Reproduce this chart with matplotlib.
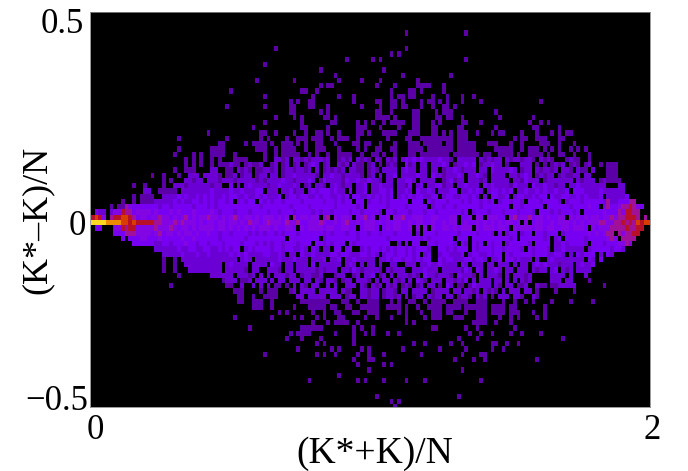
import numpy as np
import matplotlib
matplotlib.use('Agg')
from matplotlib import pyplot as plt
from matplotlib.colors import ListedColormap, BoundaryNorm
from matplotlib.transforms import ScaledTranslation

plt.rcParams['font.family'] = ['Liberation Serif', 'DejaVu Serif']

# histogram levels, one row per bin, '.' is an empty bin
# every block below is 10 bins wide, row 40 is (K*-K)/N = 0
dense_rows = {
    28: ".......... .......... .....1.1.1 ..1.1...11 11....1..2 212.221212 2212..1212 .2121.21.2 12.2323232 2223221.22 222.212122 .21221221. 2121...121 1..1...... ..........",
    29: ".......... .......... .....1.1.1 ..1.111211 2121121212 2122121123 2112122122 2112122121 2122312322 3222322122 3231122322 2122322221 1121212.12 12121.1.11 1.........",
    30: ".......... .......... ..1..111.. ..22..1112 1212112212 2122122123 2212121222 2112121222 2212322322 3222122321 2221222322 2232212222 1221212211 21122...11 1.........",
    31: ".......... ......1..1 ...1..222. 2222121121 1222122122 2122322222 1122322122 2212122222 2322222322 2322122232 1223212222 2122123221 2122212112 22221...11 1.........",
    32: ".......... .........1 .1...22122 .222122212 2222121222 2322122232 2132222132 2322322122 2122332222 2222123122 3222123222 2222213222 2122222221 2122221211 11........",
    33: ".......... .1..1....1 ..22212222 2212222322 2232222122 3222322123 2213232122 3223122322 2322133232 2233122322 3222132322 2213222132 2322122322 32222222.. .22.......",
    34: ".......... ....22..11 111.222222 2232222322 3222332222 3223122323 2333232223 3223222332 3222323322 3232223322 2323222332 3232223223 2322322323 3322223222 222.......",
    35: ".......... .1.1111..2 2223232232 3232232332 2322323222 3323323322 3233223232 3322323232 3323232332 2332233223 3232223332 2332332232 3323223322 3232223322 2223......",
    36: "........1. .1.1111222 2232322332 3232332332 3233232323 3233332333 3323323233 2333233232 3333323333 3233323332 3233232332 3323323333 2333323233 3233333252 233355....",
    37: ".....1.115 4333333323 3233333233 3232333333 3333323333 3332333323 3333323333 3233333332 3333233333 3233233233 3333233333 3333323333 3233333323 3334333353 34556543..",
    38: ".322.24465 5344443433 3434333433 3343233323 3323333233 2333233332 3233233332 3323333233 3233323332 3323333332 3323332333 2333233323 3332323332 3433333433 3546655...",
    39: "6764.56677 6534434454 4343453434 4544343454 3443434443 4344534434 4445343443 4345344334 3445334443 3443334453 3454434443 3445344534 4343344443 4343443445 4556665.5.",
    40: "9999888877 6766666554 4454544434 3443443443 4354434544 4354453344 4543343453 3434443434 3443343443 3433434433 4334343434 3443434334 4334344434 3434445544 5565657677",
    41: ".33...4465 6644444544 4543443434 4443443434 3434344434 3344344344 4434433443 3434443434 3443344434 3433443434 4434344434 4344344434 4344334434 4434434445 55565566..",
    42: "......3335 5544443453 4434344343 3433233233 3323232332 3233323333 3323233323 3233233233 3233333233 3323333323 3332333233 3233323333 3233332333 3334343455 5545566...",
    43: "........3. 3334433343 3333433433 3333233333 3233333333 3333333333 3323333333 3233333332 3333333323 2333333233 3333333333 3323333333 3233233333 3323333345 445555....",
    44: ".......... .333333223 3233343323 3233323333 2333232323 3233323333 3323233333 2333333333 3323323323 3323333233 2332333233 3233333233 3333223233 3323333233 34454.....",
    45: ".......... .......222 2223223322 3322323233 2232333323 3233223233 2322233233 3323233232 3233232333 2223323233 3232333233 2333322323 3323223222 2232333332 332.......",
    46: ".......... .........2 2222322232 2322222323 2322223322 3222233223 2222332332 2233232323 3233232332 3322332223 3233223233 2323333323 3322332322 3233322332 ..........",
    47: ".......... .........1 ..1.222222 2222222222 2322222222 3222322232 2233223222 3222222223 2332332323 3223233222 3323322223 2332322222 3223222222 2233223.2. ..........",
    48: ".......... .........1 ..1..22222 2222222322 2222222232 2222122223 2222222323 2222223223 2232222322 3223222233 2222232232 2222222223 2322212222 232232.... ..........",
    49: ".......... .........1 ..1...2222 2222222222 2122222222 1222222222 1212222221 3212222122 1222322223 2223222221 3223222232 2221222321 2222322122 2222...... ..........",
    50: ".......... .......... ...1...... ..22222222 2212222212 2212221221 1222212212 1222232122 2122212123 2212221232 2213222221 2222221232 2232222122 122....... ..........",
    51: ".......... .......... .......... .....12221 1121222122 2212221221 2122212122 2222122122 1212121321 1222222121 3122222122 2212221221 2222222221 ...1...... ..........",
    52: ".......... .......... .1........ ......11.. 2112121211 1112212122 2122122122 2221221222 1221212122 2221232211 2132222221 1221112212 11.1122222 .......1.. ..........",
    53: ".......... .......... .......... ........11 1....1.111 ...1222222 2222222211 2122122112 2112212222 2122221222 2212121212 2122222211 ....1....1 .......... ..........",
    54: ".......... .......... .......... .........1 1..1..1111 .....22222 2222222112 2122122212 2122221222 2122222112 2122122122 2212212121 .......... .......... ..........",
}
# empty bins inside the dense band
holes = {
    29: [40, 46, 47, 50, 53, 56, 61, 64, 65, 69, 73, 76, 78, 82, 83, 87, 90, 96, 103, 110, 112, 113, 114, 118, 120, 122, 127, 131, 134],
    30: [38, 43, 50, 59, 61, 68, 73, 77, 82, 87, 90, 93, 103, 106, 114, 118, 125, 129, 133],
    31: [35, 39, 43, 47, 50, 61, 73, 76, 78, 82, 90, 100, 106, 111, 118, 124, 131, 134],
    32: [60, 78, 81, 87, 93, 92, 100, 106, 112, 120, 129, 135],
    33: [35, 36, 38, 40, 56, 59, 63, 70, 74, 81, 86, 89, 97, 104, 117, 127],
    34: [46, 50, 57, 68, 70, 74, 81, 86, 92, 98, 105, 113, 128],
    35: [51, 69, 81, 93, 104, 106, 112, 122, 137],
    36: [38, 44, 70, 73, 85, 89, 108, 116, 126],
    37: [73, 90, 112, 121, 136],
    38: [78, 101, 119, 131],
    39: [53, 61, 64, 70, 76, 80, 98, 102, 105, 111, 127],
    40: [98, 115, 117],
    41: [55, 71, 77, 86, 88, 90, 102, 112, 133],
    42: [86, 88, 108, 110, 114, 118, 125, 140],
    43: [52, 61, 97, 101, 114, 123, 126, 141],
    44: [59, 68, 80, 81, 83, 85, 88, 89, 98, 101, 105, 110, 118, 123, 133],
    45: [40, 58, 61, 64, 67, 70, 71, 92, 91, 101, 116, 123, 132],
    46: [52, 55, 77, 88, 92, 91, 100, 110, 127, 129, 135, 137],
    47: [39, 43, 58, 63, 67, 76, 92, 91, 106, 110, 118, 120, 121, 132, 135, 138],
    48: [35, 42, 47, 51, 54, 58, 60, 67, 71, 73, 76, 78, 79, 82, 83, 87, 98, 101, 105, 108, 112, 114, 117, 129, 135, 139],
    49: [35, 42, 45, 46, 51, 54, 66, 78, 84, 85, 93, 102, 105, 110, 113, 117, 122, 125, 129, 134, 135, 136, 137],
    50: [38, 44, 46, 48, 55, 62, 63, 64, 68, 69, 72, 76, 79, 81, 88, 97, 103, 105, 110, 112, 118, 119, 120, 121, 122, 127, 129, 130, 131, 136],
    51: [39, 43, 47, 49, 52, 56, 59, 62, 66, 70, 75, 77, 80, 84, 86, 90, 94, 101, 103, 107, 110, 112, 114, 118, 119, 120, 121, 122, 126, 129, 130],
    52: [41, 42, 44, 46, 48, 51, 53, 55, 58, 61, 62, 64, 66, 67, 71, 74, 78, 82, 86, 89, 92, 94, 97, 100, 107, 110, 113, 117, 118, 122],
    53: [50, 55, 60, 66, 71, 77, 70, 82, 85, 90, 96, 99, 104, 109, 111, 115, 118, 122],
    54: [52, 57, 63, 67, 71, 77, 83, 85, 89, 94, 97, 102, 106, 108, 112, 116, 117, 122, 123],
}
top_cells = {
    4: [84, 100], 7: [49, 84], 8: [80, 82], 9: [68, 75, 77, 100], 10: [46], 11: [61, 78],
    12: [65, 83, 96], 13: [44, 54, 66, 72, 77, 87], 14: [61, 63, 64, 76, 81, 87, 88, 89, 90, 94],
    15: [37, 56, 57, 60, 80, 85, 86, 88, 94], 16: [46, 59, 66, 70, 80, 82, 83, 85, 86, 91, 95, 99, 102],
    17: [53, 55, 58, 59, 70, 76, 77, 80, 81, 83, 88, 90, 91, 93, 95, 99, 104, 120],
    18: [36, 46, 53, 54, 58, 59, 63, 72, 77, 80, 81, 83, 84, 88, 91, 94, 95, 97],
    19: [53, 54, 61, 63, 76, 77, 80, 86, 87, 92, 94, 95, 96, 108],
    20: [49, 54, 56, 62, 63, 65, 76, 77, 78, 79, 81, 86, 87, 92, 93, 95, 96, 99, 109, 118],
    21: [46, 56, 64, 65, 71, 73, 75, 78, 80, 81, 82, 83, 86, 87, 91, 93, 99, 100, 104, 117, 120, 122],
    22: [43, 56, 57, 63, 71, 72, 73, 77, 82, 86, 87, 91, 92, 98, 99, 108, 118, 119, 125],
    23: [31, 45, 46, 49, 54, 57, 60, 61, 63, 66, 71, 72, 74, 78, 79, 80, 81, 85, 86, 87, 91, 92, 94, 96, 98, 99, 100, 103, 107, 109, 110, 115, 119, 123, 125, 127, 128],
    24: [23, 36, 45, 47, 52, 55, 56, 57, 59, 60, 61, 64, 66, 67, 68, 71, 79, 84, 85, 88, 89, 90, 91, 92, 93, 94, 95, 96, 98, 99, 100, 113, 115, 116, 119, 120, 121, 125, 126],
    25: [34, 35, 41, 43, 44, 45, 46, 48, 51, 52, 53, 55, 57, 60, 61, 65, 70, 71, 73, 74, 77, 81, 85, 86, 87, 89, 90, 91, 92, 93, 95, 96, 98, 99, 100, 101, 102, 106, 107, 108, 112, 115, 120, 121, 122, 125, 129],
    26: [23, 32, 33, 34, 35, 44, 45, 46, 49, 51, 52, 53, 54, 57, 60, 61, 62, 66, 71, 73, 76, 77, 80, 81, 85, 86, 87, 88, 90, 91, 92, 93, 94, 95, 96, 98, 99, 100, 101, 102, 108, 109, 110, 111, 112, 115, 117, 118, 119, 121, 123, 125, 128, 130, 132],
    27: [22, 27, 29, 32, 33, 34, 35, 38, 46, 49, 51, 52, 53, 54, 55, 58, 60, 63, 66, 67, 68, 69, 72, 75, 76, 78, 81, 85, 86, 88, 89, 90, 91, 92, 93, 94, 95, 97, 98, 99, 100, 101, 102, 103, 105, 106, 109, 110, 111, 112, 114, 117, 118, 119, 120, 122, 125, 126, 129, 133],
}
bottom_cells = {
    55: [39, 40, 43, 44, 45, 48, 56, 57, 58, 59, 60, 61, 62, 63, 67, 68, 71, 74, 75, 76, 80, 82, 85, 86, 89, 91, 92, 93, 94, 97, 98, 99, 100, 103, 104, 105, 110, 113, 116, 118, 123, 128, 134],
    56: [43, 44, 45, 48, 54, 58, 59, 60, 61, 62, 64, 65, 68, 69, 72, 73, 74, 75, 76, 79, 80, 81, 82, 84, 87, 90, 91, 92, 93, 95, 96, 97, 98, 100, 101, 102, 103, 104, 105, 107, 108, 109, 110, 112, 113, 121],
    57: [50, 52, 59, 62, 65, 66, 70, 71, 74, 75, 76, 82, 84, 88, 91, 92, 93, 95, 96, 100, 103, 104, 105, 107, 108, 109, 110, 112, 113, 114, 118, 121],
    58: [38, 48, 54, 56, 60, 62, 66, 67, 73, 76, 80, 84, 89, 91, 92, 93, 97, 98, 99, 103, 104, 105, 109, 112, 114, 119, 121],
    59: [59, 63, 65, 66, 67, 68, 71, 84, 86, 102, 103, 104, 105, 108, 112],
    60: [42, 56, 57, 58, 59, 60, 61, 70, 72, 75, 91, 92, 100, 103, 113],
    61: [53, 55, 56, 57, 58, 65, 70, 73, 75, 79, 82, 101, 104, 107, 112, 115, 120],
    62: [52, 56, 61, 70, 98, 103, 126],
    63: [60, 62, 70, 86, 89, 96, 99, 107, 108, 111, 114],
    64: [55, 64, 66, 72, 74, 83, 93, 100, 107, 110],
    65: [46, 60, 62, 65, 71, 74, 78, 88, 99, 104, 105],
    66: [70, 74, 75, 97, 102, 105, 119],
    67: [71, 78, 80],
    68: [74, 99],
    69: [66],
    70: [58, 71, 73, 78, 84, 89, 104],
    73: [76, 98],
    74: [80, 82],
    75: [81],
}
xticks = [0, 2]
xtick_labels = ['0', '2']
yticks = [-0.5, 0, 0.5]
ytick_labels = ['\u22120.5', '0', '0.5']
level_colors = ['#000000', '#5a00a6', '#6a00d4', '#7800f2', '#8206e4', '#a0109a',
                '#b81028', '#d83c00', '#ee8a00', '#ffd820']

counts = np.zeros((76, 150))
for row, cols in list(top_cells.items()) + list(bottom_cells.items()):
    counts[row, cols] = 1
for row, text in dense_rows.items():
    text = text.replace(' ', '').ljust(150, '.')[:150]
    counts[row] = [0 if c == '.' else int(c) for c in text]
for row, cols in holes.items():
    counts[row, cols] = 0

fig = plt.figure(figsize=(6.88, 4.71), dpi=100)
ax = fig.add_axes([90 / 688, 1 - 407 / 471, 560 / 688, 395 / 471])

cmap = ListedColormap(level_colors)
norm = BoundaryNorm(np.arange(-0.5, 10), cmap.N)
binx = 2 / 150
biny = 1 / 70
ax.imshow(counts, cmap=cmap, norm=norm, aspect='auto', interpolation='nearest',
          extent=[0.3 * binx, 150.3 * binx, (40 - 75.5) * biny, (40 + 0.5) * biny])
ax.set_xlim(0, 2)
ax.set_ylim(-0.5, 40 * biny)

ax.set_xticks(xticks, xtick_labels, fontsize=25)
ax.set_yticks(yticks, ytick_labels, fontsize=25)
ax.tick_params(length=0, pad=1)
for spine in ax.spines.values():
    spine.set_color('#888888')
    spine.set_linewidth(0.6)

# labels sit off their tick positions in the original
dpi = fig.dpi_scale_trans
for label, dx, dy in zip(ax.get_yticklabels(), [0, -3, -5], [10, 0, 18]):
    label.set_transform(label.get_transform() + ScaledTranslation(dx / 100, dy / 100, dpi))
for label, dx in zip(ax.get_xticklabels(), [5, 2]):
    label.set_transform(label.get_transform() + ScaledTranslation(dx / 100, -6 / 100, dpi))

ax.set_xlabel('(K*+K)/N', fontsize=27, labelpad=-8, x=0.508)
ax.set_ylabel('(K*\u2013K)/N', fontsize=26, labelpad=-20, y=0.475)

fig.savefig('out.png', dpi=100)
